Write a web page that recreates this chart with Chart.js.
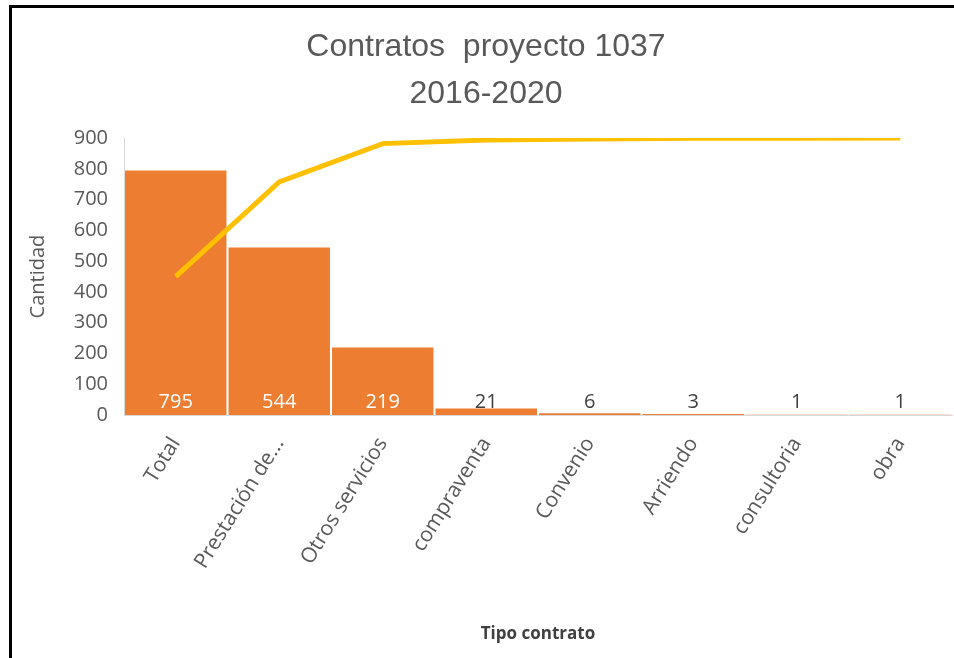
<!DOCTYPE html>
<html>
<head>
<meta charset="utf-8">
<script src="https://cdn.jsdelivr.net/npm/chart.js@4"></script>
<style>
  html, body { margin: 0; padding: 0; background: #fff; }
  #frame {
    position: absolute; left: 9px; top: 5px;
    width: 945px; height: 653px;
    border-left: 3px solid #000; border-top: 3px solid #000;
    box-sizing: border-box;
  }
  #wrap { position: absolute; left: 0; top: 0; width: 942px; height: 650px; }
</style>
</head>
<body>
<div id="frame"><div id="wrap"><canvas id="pareto"></canvas></div></div>
<script>
// categories and values
const tipos = ['Total', 'Prestación de...', 'Otros servicios', 'compraventa',
               'Convenio', 'Arriendo', 'consultoria', 'obra'];
const cantidad = [795, 544, 219, 21, 6, 3, 1, 1];
// cumulative share (%), drawn on a hidden 0-100 axis
const acumulado = [50.0, 84.2, 98.0, 99.3, 99.7, 99.9, 99.9, 100];
const yTicks = [0, 100, 200, 300, 400, 500, 600, 700, 800, 900];

const GRAY = '#595959';
const FONT = "'Open Sans', 'Noto Sans', sans-serif";

// value labels at the base of each bar
const baseLabels = {
    id: 'baseLabels',
    afterDatasetsDraw(chart) {
        const meta = chart.getDatasetMeta(1);
        const y0 = chart.scales.y.getPixelForValue(0);
        const ctx = chart.ctx;
        ctx.save();
        ctx.font = '20px ' + FONT;
        ctx.textAlign = 'center';
        ctx.textBaseline = 'middle';
        meta.data.forEach((bar, i) => {
            const h = y0 - bar.y;
            ctx.fillStyle = h > 24 ? '#ffffff' : '#404040';
            ctx.fillText(String(cantidad[i]), bar.x, y0 - 13);
        });
        ctx.restore();
    }
};

new Chart(document.getElementById('pareto'), {
    data: {
        labels: tipos,
        datasets: [
            {
                type: 'line',
                label: 'Acumulado',
                data: acumulado,
                yAxisID: 'y2',
                borderColor: '#FFC000',
                borderWidth: 5,
                pointRadius: 0,
                tension: 0,
                order: 0
            },
            {
                type: 'bar',
                label: 'Cantidad',
                data: cantidad,
                yAxisID: 'y',
                backgroundColor: '#ED7D31',
                categoryPercentage: 1,
                barPercentage: 0.98,
                order: 1
            }
        ]
    },
    options: {
        responsive: true,
        maintainAspectRatio: false,
        animation: false,
        layout: { padding: { left: 8, right: 2, top: 16, bottom: 0 } },
        plugins: {
            legend: { display: false },
            tooltip: { enabled: false },
            title: {
                display: true,
                text: ['Contratos  proyecto 1037', '2016-2020'],
                color: GRAY,
                font: { family: "'Liberation Sans Narrow', 'Liberation Sans', sans-serif", size: 32, weight: 'normal', lineHeight: 1.47 },
                padding: { top: 0, bottom: 20 }
            }
        },
        scales: {
            x: {
                grid: { display: false, drawTicks: false },
                border: { display: true, color: '#d9d9d9', width: 1 },
                ticks: {
                    color: GRAY,
                    font: { family: FONT, size: 21 },
                    minRotation: 58,
                    maxRotation: 58,
                    padding: 18,
                    autoSkip: false
                },
                title: {
                    display: true,
                    text: 'Tipo contrato',
                    color: '#404040',
                    font: { family: FONT, size: 17, weight: 'bold' },
                    padding: { top: 0, bottom: 14 }
                },
                afterFit(scale) { scale.height = 243; }
            },
            y: {
                min: 0,
                max: 900,
                afterBuildTicks(scale) { scale.ticks = yTicks.map(v => ({ value: v })); },
                grid: { display: false, drawTicks: false },
                border: { display: true, color: '#d9d9d9', width: 1 },
                ticks: {
                    color: GRAY,
                    font: { family: FONT, size: 20 },
                    padding: 16
                },
                title: {
                    display: true,
                    text: 'Cantidad',
                    color: GRAY,
                    font: { family: FONT, size: 20 },
                    padding: { top: 6, bottom: 0 }
                },
                afterFit(scale) { scale.width = 104; }
            },
            y2: {
                display: false,
                min: 0,
                max: 100
            }
        }
    },
    plugins: [baseLabels]
});
</script>
</body>
</html>
